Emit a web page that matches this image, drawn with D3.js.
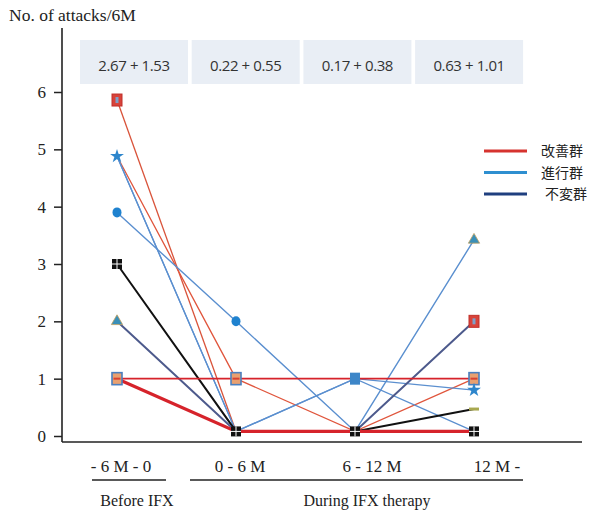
<!DOCTYPE html>
<html>
<head>
<meta charset="utf-8">
<script src="https://cdn.jsdelivr.net/npm/d3@7"></script>
<style>
  body { margin: 0; background: #fff; }
  .serif { font-family: "Liberation Serif", "DejaVu Serif", serif; fill: #222; }
</style>
</head>
<body>
<script>
// periods on the x axis
var periods = ["- 6 M - 0", "0 - 6 M", "6 - 12 M", "12 M -"];
// mean + SD per period
var stats = ["2.67 + 1.53", "0.22 + 0.55", "0.17 + 0.38", "0.63 + 1.01"];
var yTicks = [0, 1, 2, 3, 4, 5, 6];

// legend groups
var groupNames = ["改善群", "進行群", "不変群"];
var groupColors = ["#d6332f", "#2e8fd0", "#1f3f7f"];

// one line per patient (null = no segment)
var patientValues = [
  [5.86, 0.08, null, null],
  [4.88, 1, 0.08, 1],
  [4.88, 0.08, 1, 0.8],
  [4.88, 0.08, 1, 0.08],
  [3.9, 2, 0.08, 3.42],
  [3, 0.08, 0.08, 0.47],
  [2, 0.08, 0.08, 2],
  [1, 1, 1, 1],
  [1, 0.08, 0.08, 0.08]
];
var patientColor = ["#d9533a", "#e0553c", "#5b8fcf", "#5b8fcf", "#5a8fcf", "#111111", "#4d5a8c", "#d6232b", "#d6232b"];
var patientWidth = [1.3, 1.3, 1.3, 1.3, 1.4, 2, 2, 1.8, 3.2];

// markers: period index, value, shape
var markerPeriod = [0, 0, 0, 0, 0, 0, 1, 1, 1, 2, 2, 3, 3, 3, 3, 3, 3];
var markerValue  = [5.86, 4.88, 3.9, 3, 2, 1, 2, 1, 0.08, 1, 0.08, 3.42, 2, 1, 0.8, 0.47, 0.08];
var markerShape  = ["redsq", "star", "circle", "black", "tri", "sq", "circle", "sq", "black", "bluesq", "black", "tri", "redsq", "sq", "star", "dash", "black"];

var svgWidth = 595, svgHeight = 518;
var svg = d3.select("body").append("svg")
  .attr("width", svgWidth)
  .attr("height", svgHeight);

var axisX = 62, axisBottom = 442;

var xScale = d3.scalePoint()
  .domain(periods)
  .range([117, 474]);

var yScale = d3.scaleLinear()
  .domain([0, 6])
  .range([436, 92]);

// stat boxes
var boxW = 108;
svg.selectAll("rect.stat")
  .data(stats)
  .enter().append("rect")
  .attr("x", (d, i) => 80 + i * 111.7)
  .attr("y", 40)
  .attr("width", boxW)
  .attr("height", 44)
  .attr("fill", "#e9eef5");

svg.selectAll("text.stat")
  .data(stats)
  .enter().append("text")
  .attr("x", (d, i) => 80 + i * 111.7 + boxW / 2)
  .attr("y", 71)
  .attr("text-anchor", "middle")
  .style("font-family", "'Open Sans', sans-serif")
  .style("font-size", "15px")
  .style("letter-spacing", "-0.4px")
  .style("fill", "#333")
  .text(d => d);

// y axis
var leftAxis = d3.axisLeft(yScale).tickValues(yTicks).tickSize(8).tickFormat(d3.format("d"));
var yAxisG = svg.append("g")
  .attr("transform", `translate(${axisX},0)`)
  .call(leftAxis);
yAxisG.select(".domain").remove();
yAxisG.selectAll("line").attr("stroke", "#222").attr("stroke-width", 1.5);
yAxisG.selectAll("text")
  .attr("class", "serif")
  .attr("x", -16)
  .style("font-size", "17px");

svg.append("line")
  .attr("x1", axisX).attr("x2", axisX)
  .attr("y1", 28).attr("y2", axisBottom)
  .attr("stroke", "#222").attr("stroke-width", 1.6);
svg.append("line")
  .attr("x1", axisX).attr("x2", 582)
  .attr("y1", axisBottom).attr("y2", axisBottom)
  .attr("stroke", "#222").attr("stroke-width", 1.6);

svg.append("text")
  .attr("class", "serif")
  .attr("x", 9).attr("y", 21)
  .style("font-size", "17.5px")
  .text("No. of attacks/6M");

// patient lines
var line = d3.line()
  .defined(d => d != null)
  .x((d, i) => xScale(periods[i]))
  .y(d => yScale(d));

svg.selectAll("path.patient")
  .data(patientValues)
  .enter().append("path")
  .attr("d", line)
  .attr("fill", "none")
  .attr("stroke", (d, i) => patientColor[i])
  .attr("stroke-width", (d, i) => patientWidth[i]);

// markers
var mk = svg.selectAll("g.mk")
  .data(markerValue)
  .enter().append("g")
  .attr("transform", (d, i) => `translate(${xScale(periods[markerPeriod[i]])},${yScale(d)})`);

mk.each(function(d, i) {
  var g = d3.select(this);
  var s = markerShape[i];
  if (s === "redsq") {
    g.append("rect").attr("x", -5).attr("y", -6).attr("width", 10).attr("height", 12)
      .attr("fill", "#d8433a").attr("stroke", "#c0302a");
    g.append("rect").attr("x", -1.5).attr("y", -3).attr("width", 3).attr("height", 6).attr("fill", "#7fa0c8");
  } else if (s === "star") {
    g.append("path").attr("d", d3.symbol(d3.symbolStar, 60)).attr("fill", "#2e86cc");
  } else if (s === "circle") {
    g.append("ellipse").attr("rx", 4.5).attr("ry", 5).attr("fill", "#1f82cf");
  } else if (s === "black") {
    g.append("rect").attr("x", -5).attr("y", -5).attr("width", 10).attr("height", 10).attr("fill", "#111");
    g.append("line").attr("x1", 0).attr("x2", 0).attr("y1", -5).attr("y2", 5).attr("stroke", "#fff").attr("stroke-width", 1);
    g.append("line").attr("x1", -5).attr("x2", 5).attr("y1", 0).attr("y2", 0).attr("stroke", "#fff").attr("stroke-width", 1);
  } else if (s === "tri") {
    g.append("path").attr("d", d3.symbol(d3.symbolTriangle, 55)).attr("fill", "#3a8fb8").attr("stroke", "#c0a060").attr("stroke-width", 0.8);
  } else if (s === "sq") {
    g.append("rect").attr("x", -5).attr("y", -6).attr("width", 10).attr("height", 12)
      .attr("fill", "#e8a070").attr("stroke", "#4a7fbf").attr("stroke-width", 1.6);
    g.append("rect").attr("x", -3.5).attr("y", -1).attr("width", 7).attr("height", 2).attr("fill", "#d84030");
  } else if (s === "bluesq") {
    g.append("rect").attr("x", -5).attr("y", -6).attr("width", 10).attr("height", 12).attr("fill", "#3d86c8");
  } else if (s === "dash") {
    g.append("rect").attr("x", -5).attr("y", -1.5).attr("width", 10).attr("height", 3).attr("fill", "#a8a850");
  }
});

// legend
var legend = svg.selectAll("g.legend")
  .data(groupNames)
  .enter().append("g")
  .attr("transform", (d, i) => `translate(484,${151 + i * 21.5})`);
legend.append("line")
  .attr("x1", 0).attr("x2", 43)
  .attr("stroke", (d, i) => groupColors[i])
  .attr("stroke-width", 3);
legend.append("text")
  .attr("x", (d, i) => i === 2 ? 61 : 57)
  .attr("y", 5)
  .style("font-family", "'Noto Sans CJK JP', sans-serif")
  .style("font-size", "14px")
  .style("fill", "#222")
  .text(d => d);

// x labels
var labelShift = [4, 4, 17, 23];
svg.selectAll("text.period")
  .data(periods)
  .enter().append("text")
  .attr("class", "serif")
  .attr("x", (d, i) => xScale(d) + labelShift[i])
  .attr("y", 472)
  .attr("text-anchor", "middle")
  .style("font-size", "17px")
  .text(d => d);

svg.append("line").attr("x1", 92).attr("x2", 166).attr("y1", 480).attr("y2", 480)
  .attr("stroke", "#222").attr("stroke-width", 1.4);
svg.append("line").attr("x1", 190).attr("x2", 523).attr("y1", 480).attr("y2", 480)
  .attr("stroke", "#222").attr("stroke-width", 1.4);

svg.append("text").attr("class", "serif")
  .attr("x", 137).attr("y", 506).attr("text-anchor", "middle")
  .style("font-size", "16px").text("Before IFX");
svg.append("text").attr("class", "serif")
  .attr("x", 367).attr("y", 506).attr("text-anchor", "middle")
  .style("font-size", "16px").text("During IFX therapy");
</script>
</body>
</html>
